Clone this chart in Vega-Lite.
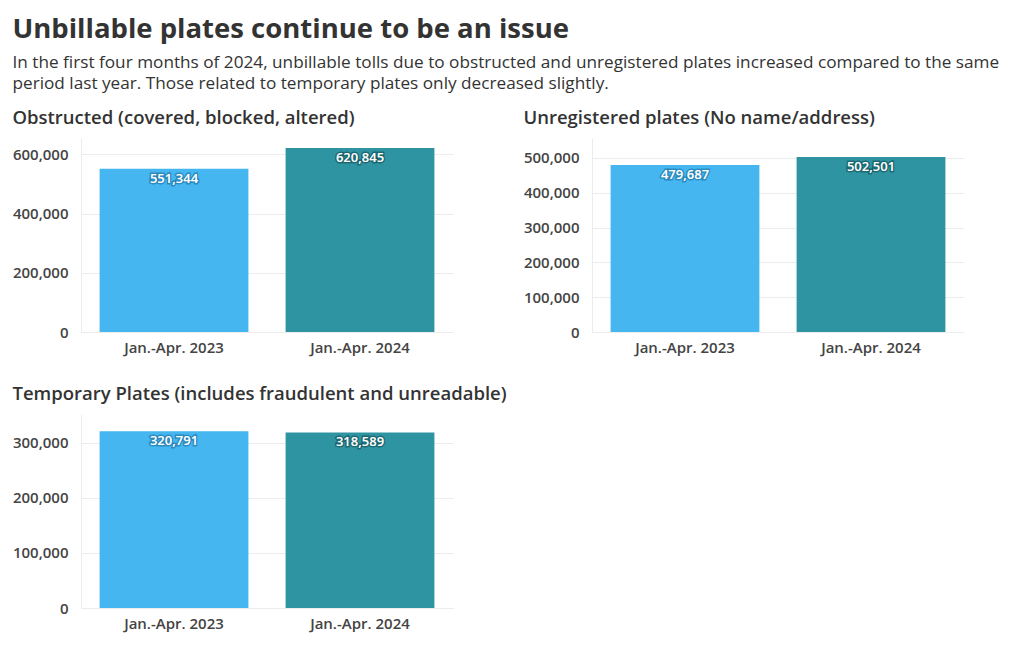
{
  "$schema": "https://vega.github.io/schema/vega-lite/v6.json",
  "background": "white",
  "padding": {"left": 12, "top": 15, "right": 10, "bottom": 5},
  "title": {
    "text": "Unbillable plates continue to be an issue",
    "subtitle": ["In the first four months of 2024, unbillable tolls due to obstructed and unregistered plates increased compared to the same", "period last year. Those related to temporary plates only decreased slightly."],
    "anchor": "start",
    "font": "Open Sans",
    "fontSize": 27.5,
    "fontWeight": "bold",
    "color": "#333333",
    "subtitleFont": "Open Sans",
    "subtitleFontSize": 17.2,
    "subtitleColor": "#333333",
    "subtitlePadding": 11,
    "subtitleLineHeight": 21,
    "offset": 16
  },
  "columns": 2,
  "spacing": {"row": 29, "column": 16},
  "concat": [
    {
      "title": {"text": "Obstructed (covered, blocked, altered)"},
      "width": 372, "height": 194,
      "data": {"values": [
        {"period": "Jan.-Apr. 2023", "value": 551344},
        {"period": "Jan.-Apr. 2024", "value": 620845}
      ]},
      "encoding": {
        "x": {"field": "period", "type": "nominal", "sort": null, "title": null, "scale": {"paddingInner": 0.2, "paddingOuter": 0.1}},
        "y": {"field": "value", "type": "quantitative", "title": null, "scale": {"domain": [0, 655000]}, "axis": {"values": [0, 200000, 400000, 600000]}}
      },
      "layer": [
        {"mark": {"type": "bar"}, "encoding": {"color": {"field": "period", "type": "nominal", "legend": null, "scale": {"domain": ["Jan.-Apr. 2023", "Jan.-Apr. 2024"], "range": ["#45b6ef", "#2f94a1"]}}}},
        {"mark": {"type": "text", "baseline": "top", "dy": 4, "font": "Open Sans", "fontSize": 13, "fontWeight": 600, "strokeWidth": 3, "strokeOpacity": 0.7, "fill": "#ffffff"}, "encoding": {"text": {"field": "value", "type": "quantitative", "format": ","}, "stroke": {"field": "period", "type": "nominal", "legend": null, "scale": {"domain": ["Jan.-Apr. 2023", "Jan.-Apr. 2024"], "range": ["#1f79ad", "#13575f"]}}}},
        {"mark": {"type": "text", "baseline": "top", "dy": 4, "font": "Open Sans", "fontSize": 13, "fontWeight": 600, "fill": "#ffffff"}, "encoding": {"text": {"field": "value", "type": "quantitative", "format": ","}}}
      ]
    },
    {
      "title": {"text": "Unregistered plates (No name/address)"},
      "width": 372, "height": 194,
      "data": {"values": [
        {"period": "Jan.-Apr. 2023", "value": 479687},
        {"period": "Jan.-Apr. 2024", "value": 502501}
      ]},
      "encoding": {
        "x": {"field": "period", "type": "nominal", "sort": null, "title": null, "scale": {"paddingInner": 0.2, "paddingOuter": 0.1}},
        "y": {"field": "value", "type": "quantitative", "title": null, "scale": {"domain": [0, 557000]}, "axis": {"values": [0, 100000, 200000, 300000, 400000, 500000]}}
      },
      "layer": [
        {"mark": {"type": "bar"}, "encoding": {"color": {"field": "period", "type": "nominal", "legend": null, "scale": {"domain": ["Jan.-Apr. 2023", "Jan.-Apr. 2024"], "range": ["#45b6ef", "#2f94a1"]}}}},
        {"mark": {"type": "text", "baseline": "top", "dy": 4, "font": "Open Sans", "fontSize": 13, "fontWeight": 600, "strokeWidth": 3, "strokeOpacity": 0.7, "fill": "#ffffff"}, "encoding": {"text": {"field": "value", "type": "quantitative", "format": ","}, "stroke": {"field": "period", "type": "nominal", "legend": null, "scale": {"domain": ["Jan.-Apr. 2023", "Jan.-Apr. 2024"], "range": ["#1f79ad", "#13575f"]}}}},
        {"mark": {"type": "text", "baseline": "top", "dy": 4, "font": "Open Sans", "fontSize": 13, "fontWeight": 600, "fill": "#ffffff"}, "encoding": {"text": {"field": "value", "type": "quantitative", "format": ","}}}
      ]
    },
    {
      "title": {"text": "Temporary Plates (includes fraudulent and unreadable)"},
      "width": 372, "height": 194,
      "data": {"values": [
        {"period": "Jan.-Apr. 2023", "value": 320791},
        {"period": "Jan.-Apr. 2024", "value": 318589}
      ]},
      "encoding": {
        "x": {"field": "period", "type": "nominal", "sort": null, "title": null, "scale": {"paddingInner": 0.2, "paddingOuter": 0.1}},
        "y": {"field": "value", "type": "quantitative", "title": null, "scale": {"domain": [0, 352000]}, "axis": {"values": [0, 100000, 200000, 300000]}}
      },
      "layer": [
        {"mark": {"type": "bar"}, "encoding": {"color": {"field": "period", "type": "nominal", "legend": null, "scale": {"domain": ["Jan.-Apr. 2023", "Jan.-Apr. 2024"], "range": ["#45b6ef", "#2f94a1"]}}}},
        {"mark": {"type": "text", "baseline": "top", "dy": 4, "font": "Open Sans", "fontSize": 13, "fontWeight": 600, "strokeWidth": 3, "strokeOpacity": 0.7, "fill": "#ffffff"}, "encoding": {"text": {"field": "value", "type": "quantitative", "format": ","}, "stroke": {"field": "period", "type": "nominal", "legend": null, "scale": {"domain": ["Jan.-Apr. 2023", "Jan.-Apr. 2024"], "range": ["#1f79ad", "#13575f"]}}}},
        {"mark": {"type": "text", "baseline": "top", "dy": 4, "font": "Open Sans", "fontSize": 13, "fontWeight": 600, "fill": "#ffffff"}, "encoding": {"text": {"field": "value", "type": "quantitative", "format": ","}}}
      ]
    }
  ],
  "resolve": {"scale": {"color": "independent", "stroke": "independent"}},
  "config": {
    "view": {"stroke": null},
    "font": "Open Sans",
    "title": {"font": "Open Sans", "fontSize": 18.5, "fontWeight": 600, "color": "#333333", "anchor": "start", "offset": 11},
    "axis": {"labelFont": "Open Sans", "labelFontSize": 15, "labelFontWeight": 600, "labelColor": "#444444", "gridColor": "#ececec", "domainColor": "#ececec", "ticks": false, "labelPadding": 13},
    "axisX": {"grid": false, "labelAngle": 0, "labelPadding": 8},
    "axisY": {"grid": true}
  }
}
